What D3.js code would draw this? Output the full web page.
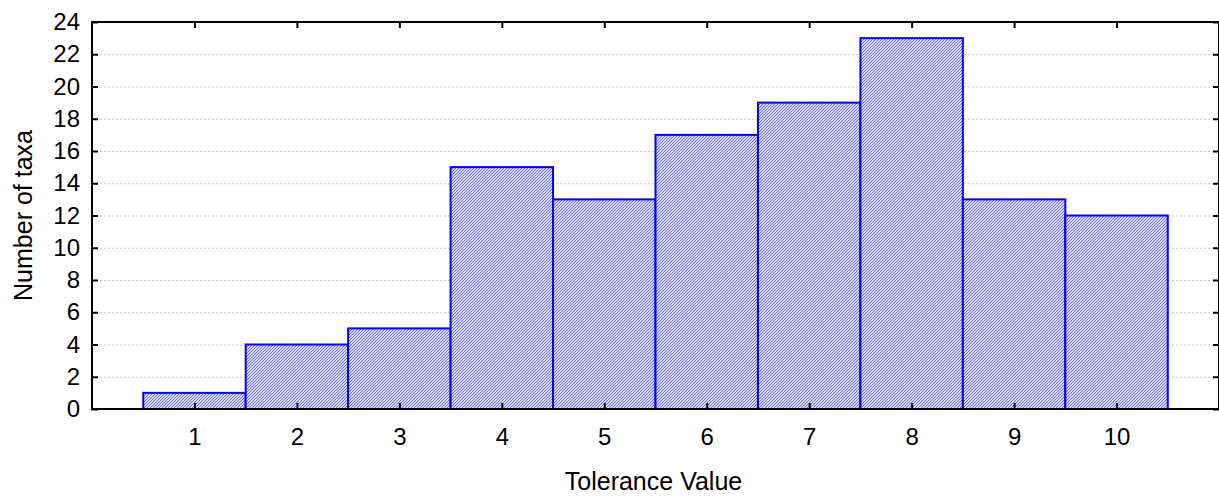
<!DOCTYPE html>
<html><head><meta charset="utf-8">
<script src="https://cdn.jsdelivr.net/npm/d3@7"></script>
<style>body{margin:0;background:#fff}svg{display:block}text{font-family:"Liberation Sans",Arial,sans-serif;fill:#000}</style>
</head><body><svg id="c" width="1219" height="498"></svg>
<script>
const categories = [1,2,3,4,5,6,7,8,9,10];
const counts = [1,4,5,15,13,17,19,23,13,12];
const yTicks = [0,2,4,6,8,10,12,14,16,18,20,22,24];
const xLabel = "Tolerance Value";
const yLabel = "Number of taxa";

const svg = d3.select("#c");
const L = 92, R = 1219, T = 22, B = 409;
const x = d3.scaleLinear().domain([0, 11]).range([L, R]);
const y = d3.scaleLinear().domain([0, 24]).range([B, T]);

const defs = svg.append("defs");
const pat = defs.append("pattern").attr("id","hatch").attr("patternUnits","userSpaceOnUse")
  .attr("width",3).attr("height",3);
pat.append("rect").attr("width",3).attr("height",3).attr("fill","#dcdcfc");
pat.append("path").attr("d","M-1,1 l2,-2 M0,3 l3,-3 M2,4 l2,-2").attr("stroke","#6a6af2").attr("stroke-width",1);

// grid
svg.append("g").selectAll("line").data(yTicks.filter(d=>d>0 && d<24)).join("line")
  .attr("x1",L).attr("x2",R).attr("y1",d=>y(d)+0.5).attr("y2",d=>y(d)+0.5)
  .attr("stroke","#c4c4c4").attr("stroke-width",1).attr("stroke-dasharray","2,2");

// bars
svg.append("g").selectAll("rect").data(categories).join("rect")
  .attr("x",(d)=>x(d-0.5)).attr("width",(d)=>x(d+0.5)-x(d-0.5))
  .attr("y",(d,i)=>y(counts[i])).attr("height",(d,i)=>B-y(counts[i]))
  .attr("fill","url(#hatch)").attr("stroke","#0000ff").attr("stroke-width",2);

// frame
svg.append("rect").attr("x",L).attr("y",T).attr("width",R-L).attr("height",B-T)
  .attr("fill","none").attr("stroke","#000").attr("stroke-width",2);

// axes
const yAxisL = d3.axisLeft(y).tickValues(yTicks).tickSize(-6).tickPadding(12);
const gL = svg.append("g").attr("transform",`translate(${L},0)`).call(yAxisL);
const yAxisR = d3.axisRight(y).tickValues(yTicks).tickSize(-6).tickFormat("");
const gR = svg.append("g").attr("transform",`translate(${R},0)`).call(yAxisR);
const xAxisB = d3.axisBottom(x).tickValues(categories).tickSize(-6).tickPadding(19);
const gB = svg.append("g").attr("transform",`translate(0,${B})`).call(xAxisB);
const xAxisT = d3.axisTop(x).tickValues(categories).tickSize(-6).tickFormat("");
const gT = svg.append("g").attr("transform",`translate(0,${T})`).call(xAxisT);
[gL,gR,gB,gT].forEach(g=>{
  g.attr("font-size",null).attr("font-family",null);
  g.select(".domain").remove();
  g.selectAll(".tick line").attr("stroke","#000").attr("stroke-width",2);
  g.selectAll("text").style("font-size","24px").style("font-family","'Liberation Sans', Arial, sans-serif").attr("fill","#000");
});

svg.append("text").attr("x",(L+R)/2 - 2).attr("y",490).attr("text-anchor","middle")
  .style("font-size","25px").text(xLabel);
svg.append("text").attr("transform",`translate(32,${(T+B)/2}) rotate(-90)`).attr("text-anchor","middle")
  .style("font-size","25px").text(yLabel);
</script></body></html>
